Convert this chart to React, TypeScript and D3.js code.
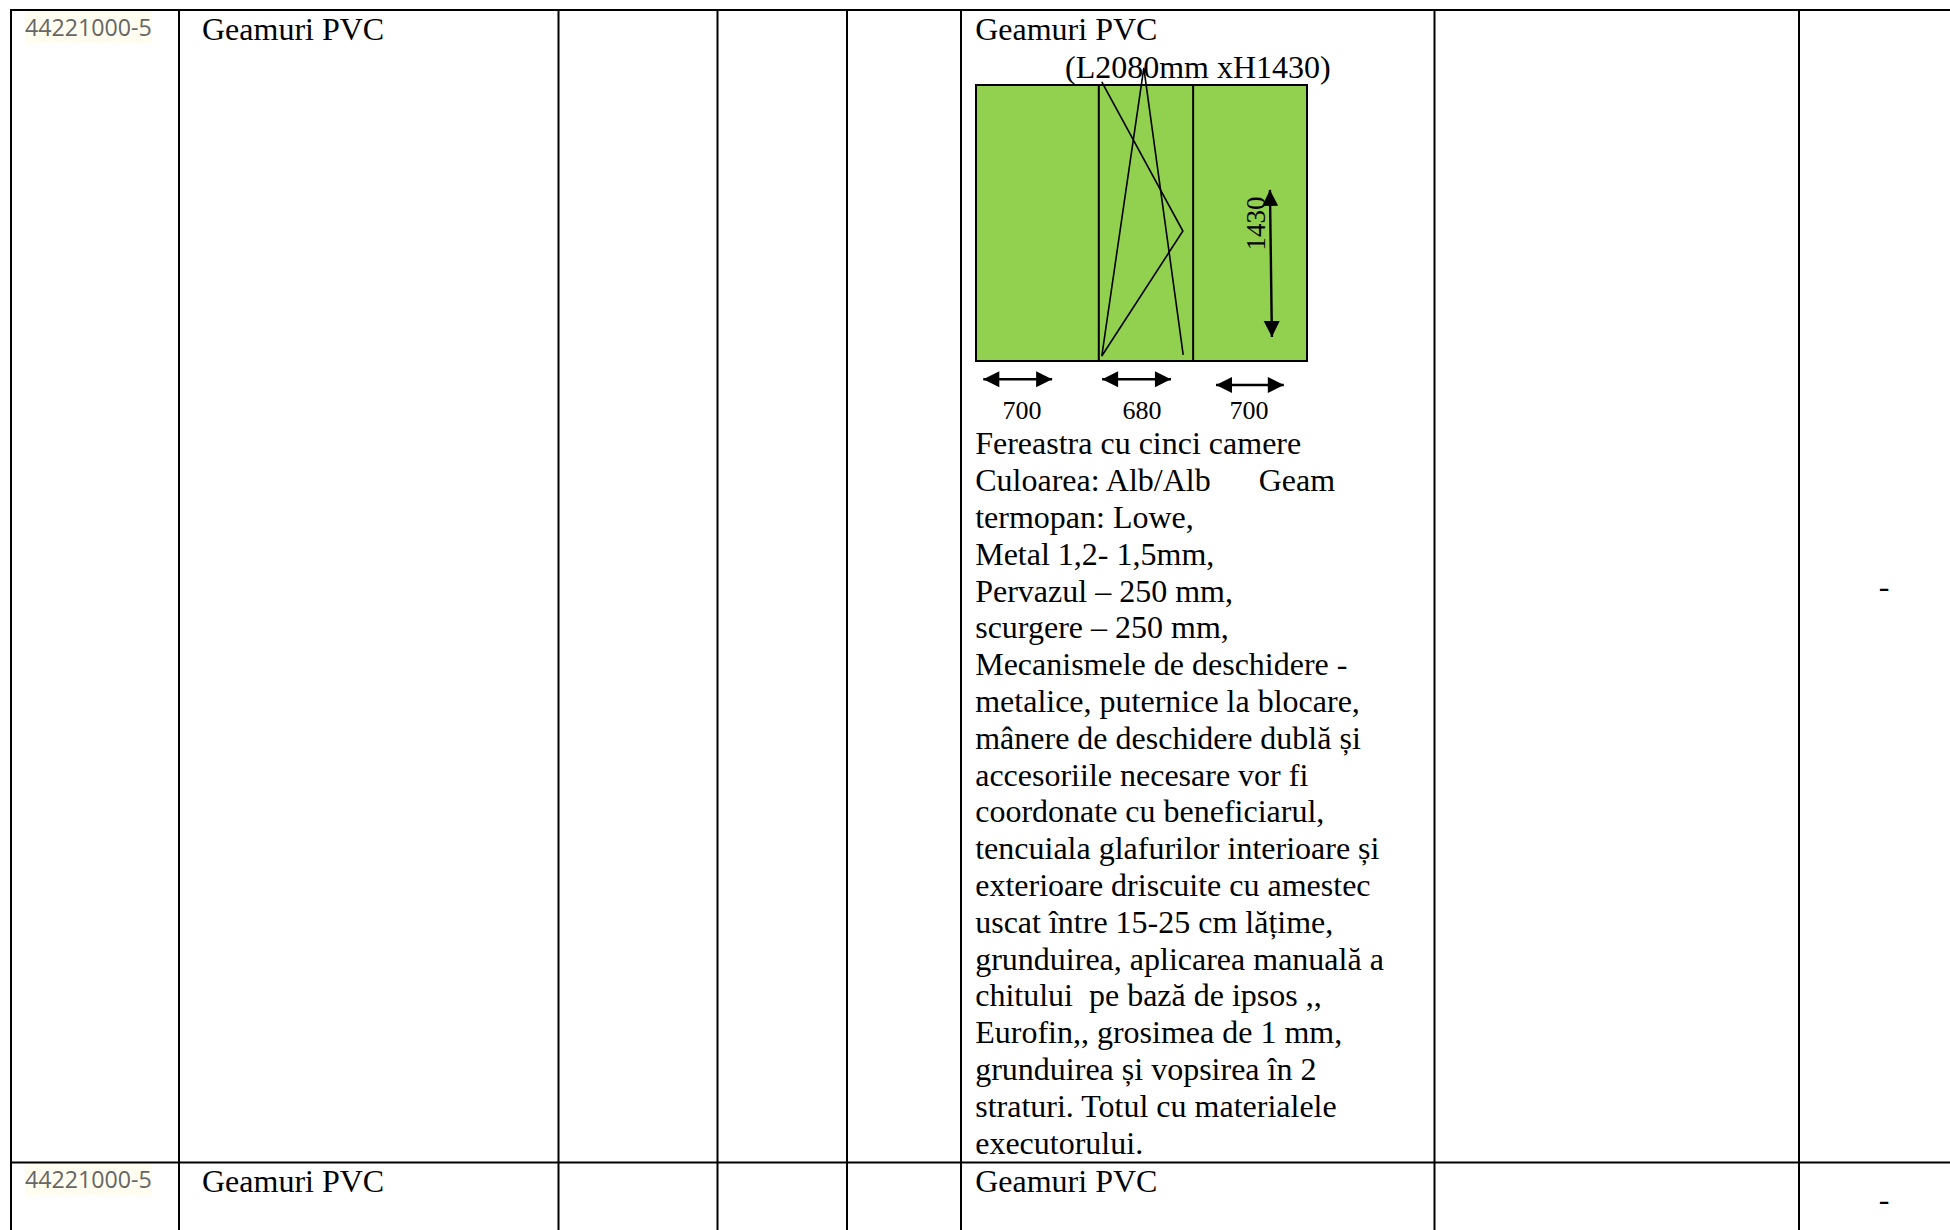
import * as d3 from 'd3';

const codes = ['44221000-5', '44221000-5'];
const itemName = 'Geamuri PVC';
const dashes = ['-', '-'];
const sizeTitle = '(L2080mm xH1430)';
const widthLabels = ['700', '680', '700'];
const heightLabel = '1430';
const description = [
  'Fereastra cu cinci camere',
  'Culoarea: Alb/Alb      Geam',
  'termopan: Lowe,',
  'Metal 1,2- 1,5mm,',
  'Pervazul – 250 mm,',
  'scurgere – 250 mm,',
  'Mecanismele de deschidere -',
  'metalice, puternice la blocare,',
  'mânere de deschidere dublă și',
  'accesoriile necesare vor fi',
  'coordonate cu beneficiarul,',
  'tencuiala glafurilor interioare și',
  'exterioare driscuite cu amestec',
  'uscat între 15-25 cm lățime,',
  'grunduirea, aplicarea manuală a',
  'chitului  pe bază de ipsos ,,',
  'Eurofin,, grosimea de 1 mm,',
  'grunduirea și vopsirea în 2',
  'straturi. Totul cu materialele',
  'executorului.',
];

// window drawing, as fractions of the green frame
const paneEdges = [0.371, 0.656];
const sashA: [number, number][] = [[0.38, -0.011], [0.625, 0.529], [0.38, 0.982]];
const sashB: [number, number][] = [[0.38, 0.982], [0.507, -0.062], [0.626, 0.978]];

const W = 1950;
const H = 1230;
const colLines = [11, 179, 558.5, 717.5, 847, 961, 1434.5, 1799];
const rowLines = [10, 1162.5];
const codeBaselines = [35.5, 1188];
const nameBaselines = [40, 1191.5];
const dashBaselines = [597, 1210];
const serif = '"Liberation Serif", serif';
const green = '#92D050';

const fx = d3.scaleLinear().domain([0, 1]).range([976, 1307]);
const fy = d3.scaleLinear().domain([0, 1]).range([85, 361]);
const lineGen = d3.line<[number, number]>().x((d) => fx(d[0])).y((d) => fy(d[1]));

function Arrow({ x1, y1, x2, y2 }: { x1: number; y1: number; x2: number; y2: number }) {
  const a = [fx(x1), fy(y1)];
  const b = [fx(x2), fy(y2)];
  const angle = Math.atan2(b[1] - a[1], b[0] - a[0]);
  const head = (p: number[], dir: number) => {
    const len = 16;
    const half = 8;
    const cx = p[0] - Math.cos(angle) * dir * len;
    const cy = p[1] - Math.sin(angle) * dir * len;
    const nx = -Math.sin(angle) * half;
    const ny = Math.cos(angle) * half;
    return `${p[0]},${p[1]} ${cx + nx},${cy + ny} ${cx - nx},${cy - ny}`;
  };
  return (
    <g>
      <line x1={a[0]} y1={a[1]} x2={b[0]} y2={b[1]} stroke="#000" strokeWidth={2.4} />
      <polygon points={head(b, 1)} fill="#000" />
      <polygon points={head(a, -1)} fill="#000" />
    </g>
  );
}

export default function App() {
  return (
    <svg width={W} height={H} style={{ position: 'absolute', left: 0, top: 0, background: '#fff' }}>
      {/* first column codes, highlight sits under the grid */}
      {codes.map((c, i) => (
        <g key={i}>
          <rect x={25} y={rowLines[i] + 1} width={127} height={32} fill="#FFFDF0" />
          <text x={25} y={codeBaselines[i]} fontFamily='"Open Sans", sans-serif' fontSize={23.2} fill="#666">
            {c}
          </text>
        </g>
      ))}

      {/* table grid */}
      {colLines.map((x) => (
        <line key={x} x1={x} x2={x} y1={9} y2={H} stroke="#000" strokeWidth={2} />
      ))}
      {rowLines.map((y) => (
        <line key={y} x1={10} x2={W} y1={y} y2={y} stroke="#000" strokeWidth={2} />
      ))}

      {nameBaselines.map((y, i) => (
        <g key={i} fontFamily={serif} fontSize={32} fill="#000">
          <text x={202} y={y}>{itemName}</text>
          <text x={975.2} y={y}>{itemName}</text>
        </g>
      ))}
      <text x={1065} y={78} fontFamily={serif} fontSize={32}>{sizeTitle}</text>

      {/* window */}
      <rect x={fx(0)} y={fy(0)} width={fx(1) - fx(0)} height={fy(1) - fy(0)} fill={green} stroke="#000" strokeWidth={2} />
      {paneEdges.map((e) => (
        <line key={e} x1={fx(e)} x2={fx(e)} y1={fy(0)} y2={fy(1)} stroke="#000" strokeWidth={2} />
      ))}
      <path d={lineGen(sashA)!} fill="none" stroke="#000" strokeWidth={1.6} />
      <path d={lineGen(sashB)!} fill="none" stroke="#000" strokeWidth={1.6} />

      <Arrow x1={0.888} y1={0.38} x2={0.894} y2={0.913} />
      <Arrow x1={0.022} y1={1.066} x2={0.23} y2={1.066} />
      <Arrow x1={0.381} y1={1.066} x2={0.589} y2={1.066} />
      <Arrow x1={0.725} y1={1.087} x2={0.93} y2={1.087} />

      {widthLabels.map((t, i) => (
        <text key={i} x={[1022, 1142, 1249][i]} y={419} textAnchor="middle" fontFamily={serif} fontSize={26}>
          {t}
        </text>
      ))}
      <text transform="translate(1265,223.5) rotate(-90)" textAnchor="middle" fontFamily={serif} fontSize={27}>
        {heightLabel}
      </text>

      {/* description */}
      {description.map((t, i) => (
        <text key={i} x={975.2} y={454.3 + i * 36.8} fontFamily={serif} fontSize={32} xmlSpace="preserve">
          {t}
        </text>
      ))}

      {dashes.map((d, i) => (
        <text key={i} x={1884} y={dashBaselines[i]} textAnchor="middle" fontFamily={serif} fontSize={32}>
          {d}
        </text>
      ))}
    </svg>
  );
}
